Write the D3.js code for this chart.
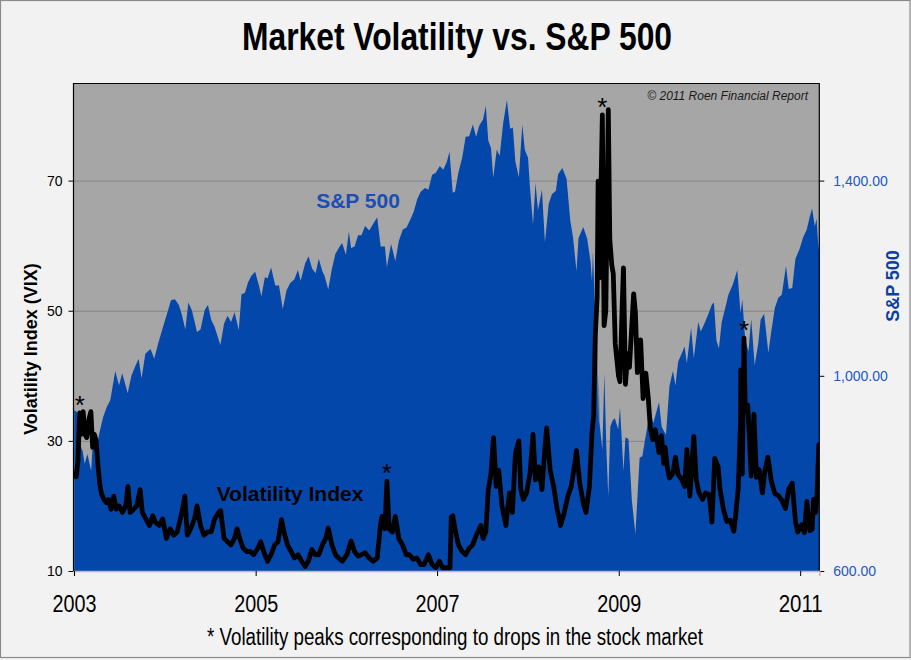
<!DOCTYPE html>
<html><head><meta charset="utf-8">
<script src="https://cdn.jsdelivr.net/npm/d3@7"></script>
<style>body{margin:0;background:#f2f2f2;} svg{display:block}</style>
</head><body><svg id="chart" width="911" height="660"></svg>
<script>
// ---- S&P 500 (area, right axis) ----
const spDates = [
"2003-01-02","2003-01-14","2003-01-24","2003-02-05","2003-02-13","2003-02-24","2003-03-11","2003-03-21","2003-03-31","2003-04-14","2003-04-28","2003-05-12","2003-05-27","2003-06-16","2003-07-01","2003-07-14","2003-08-05","2003-08-20","2003-09-05","2003-09-18","2003-09-30","2003-10-15","2003-11-05","2003-11-20","2003-12-05","2003-12-31",
"2004-01-15","2004-01-26","2004-02-11","2004-02-27","2004-03-10","2004-03-24","2004-04-05","2004-04-19","2004-05-10","2004-05-24","2004-06-10","2004-06-23","2004-07-06","2004-07-20","2004-08-12","2004-08-27","2004-09-10","2004-09-24","2004-10-08","2004-10-25","2004-11-05","2004-11-19","2004-12-01","2004-12-15","2004-12-30",
"2005-01-14","2005-01-24","2005-02-07","2005-02-18","2005-03-04","2005-03-21","2005-04-05","2005-04-20","2005-05-05","2005-05-20","2005-06-06","2005-06-20","2005-07-01","2005-07-19","2005-08-02","2005-08-16","2005-08-30","2005-09-12","2005-09-26","2005-10-05","2005-10-20","2005-11-04","2005-11-18","2005-12-05","2005-12-15","2005-12-30",
"2006-01-11","2006-01-20","2006-02-03","2006-02-17","2006-03-03","2006-03-17","2006-04-03","2006-04-20","2006-05-05","2006-05-19","2006-06-05","2006-06-13","2006-06-30","2006-07-17","2006-07-31","2006-08-16","2006-08-31","2006-09-15","2006-09-29","2006-10-13","2006-10-27","2006-11-13","2006-11-27","2006-12-12","2006-12-27",
"2007-01-12","2007-01-26","2007-02-09","2007-02-20","2007-03-05","2007-03-14","2007-03-28","2007-04-12","2007-04-26","2007-05-10","2007-05-25","2007-06-07","2007-06-20","2007-07-05","2007-07-16","2007-07-26","2007-08-06","2007-08-15","2007-08-29","2007-09-10","2007-09-24","2007-10-09","2007-10-22","2007-11-02","2007-11-12","2007-11-26","2007-12-10","2007-12-20",
"2008-01-02","2008-01-09","2008-01-22","2008-02-01","2008-02-11","2008-02-27","2008-03-10","2008-03-25","2008-04-07","2008-04-23","2008-05-02","2008-05-19","2008-06-05","2008-06-20","2008-07-01","2008-07-15","2008-07-23","2008-08-11","2008-08-27","2008-09-10","2008-09-15","2008-09-19","2008-09-29","2008-10-06","2008-10-10","2008-10-13","2008-10-15","2008-10-27","2008-11-04","2008-11-12","2008-11-20","2008-11-28","2008-12-08","2008-12-16","2008-12-30",
"2009-01-06","2009-01-20","2009-01-28","2009-02-09","2009-02-23","2009-03-09","2009-03-26","2009-04-06","2009-04-17","2009-05-08","2009-05-20","2009-06-12","2009-06-23","2009-07-10","2009-07-24","2009-08-07","2009-08-17","2009-08-28","2009-09-10","2009-09-23","2009-10-02","2009-10-19","2009-10-30","2009-11-17","2009-11-27","2009-12-11","2009-12-28",
"2010-01-11","2010-01-19","2010-01-29","2010-02-08","2010-02-19","2010-03-05","2010-03-18","2010-04-05","2010-04-23","2010-05-06","2010-05-13","2010-05-25","2010-06-07","2010-06-18","2010-07-02","2010-07-16","2010-07-26","2010-08-09","2010-08-26","2010-09-07","2010-09-21","2010-10-05","2010-10-19","2010-11-05","2010-11-16","2010-11-30","2010-12-13","2010-12-29",
"2011-01-13","2011-01-27","2011-02-08","2011-02-18","2011-03-01","2011-03-08","2011-03-16","2011-03-18"];
const spValues = [
930,925,860,845,820,840,805,890,850,885,915,935,950,1010,980,1005,965,1000,1020,1035,995,1045,1055,1035,1065,1110,
1135,1155,1157,1145,1125,1095,1150,1135,1090,1095,1135,1145,1115,1100,1063,1107,1123,1110,1130,1094,1167,1170,1191,1205,1213,
1185,1163,1202,1200,1222,1185,1185,1137,1175,1190,1198,1217,1195,1230,1245,1220,1210,1240,1215,1205,1177,1220,1250,1265,1272,1248,
1295,1262,1265,1288,1288,1307,1298,1312,1325,1265,1265,1223,1270,1235,1276,1300,1304,1320,1336,1362,1377,1385,1381,1412,1416,
1430,1422,1438,1459,1375,1377,1417,1447,1490,1491,1515,1490,1513,1525,1553,1482,1467,1406,1463,1451,1518,1565,1506,1509,1439,1407,1515,1463,
1447,1391,1310,1395,1339,1381,1273,1352,1372,1379,1413,1426,1404,1318,1284,1214,1282,1305,1281,1232,1193,1255,1106,1057,899,1003,907,848,1005,853,752,896,909,913,890,
935,805,874,870,743,676,832,835,870,930,903,946,895,879,979,1010,980,1029,1044,1060,1025,1098,1036,1110,1091,1106,1127,
1146,1150,1073,1056,1109,1138,1166,1187,1217,1128,1157,1074,1050,1117,1022,1065,1115,1127,1047,1092,1139,1160,1166,1225,1178,1180,1240,1259,
1284,1299,1325,1343,1306,1322,1257,1279];

// ---- Volatility Index VIX (line, left axis) ----
const vixDates = [
"2003-01-02","2003-01-10","2003-01-17","2003-01-24","2003-01-31","2003-02-07","2003-02-14","2003-02-21","2003-03-03","2003-03-10","2003-03-17","2003-03-24","2003-03-31","2003-04-07","2003-04-14","2003-04-21","2003-05-01","2003-05-12","2003-05-20","2003-05-30","2003-06-10","2003-06-20","2003-07-01","2003-07-15","2003-07-28","2003-08-06","2003-08-15","2003-08-29","2003-09-10","2003-09-24","2003-10-03","2003-10-17","2003-11-01","2003-11-14","2003-11-24","2003-12-10","2003-12-24",
"2004-01-08","2004-01-23","2004-02-06","2004-02-20","2004-03-10","2004-03-22","2004-04-01","2004-04-15","2004-04-30","2004-05-10","2004-05-24","2004-06-07","2004-06-21","2004-07-06","2004-07-20","2004-08-05","2004-08-13","2004-08-27","2004-09-10","2004-09-24","2004-10-08","2004-10-18","2004-10-29","2004-11-12","2004-11-26","2004-12-10","2004-12-24",
"2005-01-10","2005-01-21","2005-02-07","2005-02-18","2005-03-04","2005-03-18","2005-04-01","2005-04-15","2005-04-25","2005-05-09","2005-05-23","2005-06-06","2005-06-20","2005-07-05","2005-07-19","2005-08-01","2005-08-15","2005-08-29","2005-09-12","2005-09-26","2005-10-10","2005-10-20","2005-11-04","2005-11-18","2005-12-01","2005-12-16",
"2006-01-03","2006-01-20","2006-02-03","2006-02-17","2006-03-03","2006-03-17","2006-04-03","2006-04-18","2006-05-05","2006-05-18","2006-05-24","2006-06-05","2006-06-13","2006-06-22","2006-07-05","2006-07-17","2006-07-31","2006-08-15","2006-08-30","2006-09-12","2006-09-27","2006-10-11","2006-10-27","2006-11-10","2006-11-27","2006-12-12","2006-12-27",
"2007-01-10","2007-01-24","2007-02-09","2007-02-22","2007-02-27","2007-03-05","2007-03-14","2007-03-28","2007-04-12","2007-04-26","2007-05-10","2007-05-24","2007-06-08","2007-06-26","2007-07-05","2007-07-16","2007-07-26","2007-08-06","2007-08-16","2007-08-27","2007-09-06","2007-09-19","2007-10-05","2007-10-19","2007-10-31","2007-11-12","2007-11-26","2007-12-04","2007-12-14","2007-12-27",
"2008-01-10","2008-01-22","2008-02-01","2008-02-14","2008-02-27","2008-03-10","2008-03-17","2008-03-31","2008-04-14","2008-04-28","2008-05-12","2008-05-27","2008-06-10","2008-06-24","2008-07-08","2008-07-15","2008-07-28","2008-08-11","2008-08-22","2008-09-05","2008-09-15","2008-09-22","2008-09-29","2008-10-06","2008-10-10","2008-10-14","2008-10-22","2008-10-27","2008-11-03","2008-11-10","2008-11-13","2008-11-20","2008-11-26","2008-12-04","2008-12-10","2008-12-18","2008-12-31",
"2009-01-06","2009-01-15","2009-01-20","2009-01-28","2009-02-06","2009-02-13","2009-02-23","2009-03-02","2009-03-09","2009-03-17","2009-03-30","2009-04-09","2009-04-20","2009-04-30","2009-05-08","2009-05-18","2009-05-28","2009-06-12","2009-06-22","2009-07-01","2009-07-07","2009-07-15","2009-07-24","2009-08-07","2009-08-17","2009-08-28","2009-09-10","2009-09-23","2009-10-02","2009-10-14","2009-10-30","2009-11-09","2009-11-20","2009-12-04","2009-12-17","2009-12-31",
"2010-01-11","2010-01-22","2010-02-05","2010-02-12","2010-02-26","2010-03-12","2010-03-26","2010-04-09","2010-04-16","2010-04-27","2010-05-06","2010-05-07","2010-05-13","2010-05-20","2010-05-25","2010-06-04","2010-06-14","2010-06-18","2010-06-29","2010-07-09","2010-07-20","2010-08-02","2010-08-12","2010-08-24","2010-09-07","2010-09-21","2010-10-06","2010-10-19","2010-11-03","2010-11-16","2010-11-30","2010-12-13","2010-12-22",
"2011-01-07","2011-01-18","2011-01-28","2011-02-09","2011-02-18","2011-02-24","2011-03-04","2011-03-10","2011-03-17"];
const vixValues = [
25,24.5,27,34.3,31,34.5,31,30.5,33.5,34.5,29,31,30,26.5,23.5,22,21,20.5,21,19.5,21.5,19.5,20,19,20,23,19,19.5,20,22.5,19,18,17,18.5,17.5,17,18,
15,16.5,15.5,16,19,21.5,15.5,16.5,18,20,17,15.5,16,16,18,19,19.3,15,14.5,14,15,16.5,15,13.5,13,13,12.5,
13.5,14.5,12.5,11.5,12.5,14,14.5,17.9,16,14,13,12,12.5,11.5,10.7,11.5,13.3,12.5,12.5,14,15,16.6,14,12.5,12,11.5,
12.5,14.6,13,12.3,12.5,12.8,12,11.5,12,17,18.4,16.5,23.8,16.5,16,18.4,15,14,12.5,12.5,11.8,12,11,11,12.5,11,10.5,
11.5,10.5,10.5,10.5,18.3,18.5,16.5,14,13,12.5,13.5,14,15.5,17,15,16,22.5,25,30.5,23,25.5,20,17,22,19,28,30,22.5,21,22,
25,31,24,26,22.5,29,32,25.5,23,19.5,17,19,21.5,23,26.5,28.5,23.5,20.5,19,23,31,34,46.5,52,69.9,55,69.7,80.1,47.7,50,59.8,80.9,60.9,57,55.7,44.9,40,
39.1,51,56.6,38.7,43.4,41.3,48,52.6,49.7,40.5,45.5,36.5,40.4,36.5,32,30.2,31.7,28.2,30.8,26.5,29,26,24.3,25,27.5,24.8,24.2,23,28.7,21.5,30.7,24,22,21,22,21.7,
17.5,27.3,26,22.7,19.5,17.6,17.8,16.1,18.4,22.8,33,40.9,24.9,45.8,34.6,35.5,28,24.6,34.1,24.4,25.6,22,25.4,27.5,23.8,21.9,21.6,20.9,19.6,22.6,23.5,17.6,16,
17.1,15.9,20.7,16.2,16.4,21,19,21.9,29.4];

// peaks marked with an asterisk
const peakDates = ["2003-01-24","2006-06-13","2008-10-27","2010-05-20"];
const peakValues = [34.3, 23.8, 80.1, 45.8];

// axis ticks
const yearTicks = [2003, 2005, 2007, 2009, 2011];
const vixTicks = [10, 30, 50, 70];
const spTicks = [600, 1000, 1400];

const parse = d3.timeParse("%Y-%m-%d");
const sp = spDates.map((d, i) => ({date: parse(d), v: spValues[i]}));
const vix = vixDates.map((d, i) => ({date: parse(d), v: vixValues[i]}));

const L = 74, R = 819.3, T = 83, B = 571;
const narrow = "'Liberation Sans Narrow','Arial Narrow','Liberation Sans',Arial,sans-serif";
const sans = "'Liberation Sans',Arial,sans-serif";

const svg = d3.select("#chart");
svg.append("rect").attr("x",0.5).attr("y",0.5).attr("width",909.5).attr("height",657)
  .attr("fill","#f2f2f2").attr("stroke","#8a8a8a").attr("stroke-width",1.2);

const x = d3.scaleTime().domain([new Date(2003,0,1), new Date(2011,2,19)]).range([L, R]);
const yL = d3.scaleLinear().domain([10, 85]).range([B, T]);
const yR = d3.scaleLinear().domain([600, 1600]).range([B, T]);

// plot background
svg.append("rect").attr("x",L).attr("y",T).attr("width",R-L).attr("height",B-T).attr("fill","#a6a6a6");

// gridlines
svg.append("g").selectAll("line").data(vixTicks.filter(t => t > 10)).join("line")
  .attr("x1",L).attr("x2",R).attr("y1",d=>yL(d)+0.5).attr("y2",d=>yL(d)+0.5)
  .attr("stroke","#858585").attr("stroke-width",1);

// S&P area
svg.append("clipPath").attr("id","clip").append("rect")
  .attr("x",L).attr("y",T).attr("width",R-L).attr("height",B-T);
svg.append("path").datum(sp)
  .attr("clip-path","url(#clip)")
  .attr("fill","#0447ab")
  .attr("d", d3.area().x(d=>x(d.date)).y0(B).y1(d=>yR(d.v)));

// VIX line
svg.append("path").datum(vix)
  .attr("clip-path","url(#clip)")
  .attr("fill","none").attr("stroke","#000").attr("stroke-width",4.8)
  .attr("stroke-linejoin","round").attr("stroke-linecap","round")
  .attr("d", d3.line().x(d=>x(d.date)).y(d=>yL(d.v)));

// asterisks
svg.append("g").selectAll("text").data(peakDates.map((d,i)=>({date:parse(d), v:peakValues[i]}))).join("text")
  .attr("x",d=>x(d.date)).attr("y",d=>yL(d.v)+1)
  .attr("text-anchor","middle").attr("font-family",sans).attr("font-size",26).attr("fill","#000")
  .text("*");

// in-plot labels
svg.append("text").attr("x",358).attr("y",208).attr("text-anchor","middle")
  .attr("font-family",sans).attr("font-weight","bold").attr("font-size",21).attr("fill","#1c4db5")
  .text("S&P 500");
svg.append("text").attr("x",290).attr("y",501).attr("text-anchor","middle")
  .attr("font-family",sans).attr("font-weight","bold").attr("font-size",21).attr("fill","#000")
  .text("Volatility Index");
svg.append("text").attr("x",808).attr("y",100).attr("text-anchor","end")
  .attr("font-family",sans).attr("font-style","italic").attr("font-size",12).attr("fill","#1a1a1a")
  .text("© 2011 Roen Financial Report");

// frame
svg.append("path").attr("d",`M${L-0.5},${B}V${T+0.5}H${R}V${B}`).attr("fill","none").attr("stroke","#000").attr("stroke-width",1.2);

// axes
const gL = svg.append("g").attr("transform",`translate(${L-0.5},0)`)
  .call(d3.axisLeft(yL).tickValues(vixTicks).tickSize(5).tickPadding(6));
gL.select(".domain").remove();
gL.selectAll("text").attr("font-family",sans).attr("font-size",14).attr("fill","#000");
gL.selectAll("line").attr("stroke","#000");

const gR = svg.append("g").attr("transform",`translate(${R},0)`)
  .call(d3.axisRight(yR).tickValues(spTicks).tickFormat(d3.format(",.2f")).tickSize(5).tickPadding(9));
gR.select(".domain").remove();
gR.selectAll("text").attr("font-family",sans).attr("font-size",14).attr("fill","#2257c4");
gR.selectAll("line").attr("stroke","#000");

const gB = svg.append("g").attr("transform",`translate(0,${B})`)
  .call(d3.axisBottom(x).tickValues(yearTicks.map(y=>new Date(y,0,1))).tickFormat(d3.timeFormat("%Y")).tickSize(5).tickPadding(20));
gB.select(".domain").attr("stroke","#b9b9b9").attr("stroke-width",1.5);
gB.selectAll("line").attr("stroke","#000");
gB.selectAll("text").attr("font-family",narrow).attr("font-size",23).attr("fill","#000")
  .attr("textLength",44).attr("lengthAdjust","spacingAndGlyphs");

// axis titles
svg.append("text").attr("transform","translate(37,349) rotate(-90)").attr("text-anchor","middle")
  .attr("font-family",sans).attr("font-weight","bold").attr("font-size",18).attr("fill","#000")
  .text("Volatility Index (VIX)");
svg.append("text").attr("transform","translate(899,286) rotate(-90)").attr("text-anchor","middle")
  .attr("font-family",sans).attr("font-weight","bold").attr("font-size",18).attr("fill","#0c409e")
  .text("S&P 500");

// title and footnote
svg.append("text").attr("x",457).attr("y",50).attr("text-anchor","middle")
  .attr("font-family",narrow).attr("font-weight","bold").attr("font-size",38).attr("fill","#000")
  .attr("textLength",430).attr("lengthAdjust","spacingAndGlyphs")
  .text("Market Volatility vs. S&P 500");
svg.append("text").attr("x",455).attr("y",645).attr("text-anchor","middle")
  .attr("font-family",narrow).attr("font-size",23).attr("fill","#000")
  .attr("textLength",496).attr("lengthAdjust","spacingAndGlyphs")
  .text("* Volatility peaks corresponding to drops in the stock market");
</script></body></html>
